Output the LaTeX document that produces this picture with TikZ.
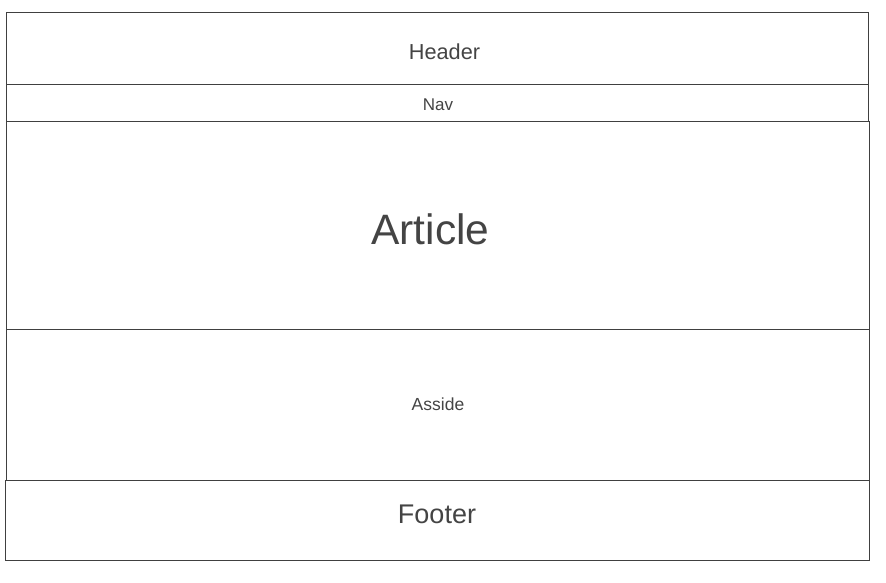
\documentclass[tikz,border=0pt]{standalone}
\usepackage{fontspec}
\setmainfont{Liberation Sans}
\definecolor{linec}{HTML}{404040}
\definecolor{textc}{HTML}{444444}
\begin{document}
\begin{tikzpicture}[x=1pt,y=-1pt,
  box/.style={draw=linec, line width=1pt, rectangle, inner sep=0pt, outer sep=0pt, anchor=north west},
  lbl/.style={text=textc, inner sep=0pt, anchor=base}]
\useasboundingbox (0,0) rectangle (886,582);
\node[box, minimum width=862pt, minimum height=72pt] (header) at (6.5,12.5) {};
\node[box, minimum width=862pt, minimum height=37pt] (nav) at (6.5,84.5) {};
\node[box, minimum width=863pt, minimum height=208pt] (article) at (6.5,121.5) {};
\node[box, minimum width=863pt, minimum height=151pt] (aside) at (6.5,329.5) {};
\node[box, minimum width=864pt, minimum height=80pt] (footer) at (5.5,480.5) {};
\node[lbl, font=\fontsize{21.7}{25}\selectfont] (headertext) at (444.5,59) {Header};
\node[lbl, font=\fontsize{17}{20}\selectfont] (navtext) at (438,110.7) {Nav};
\node[lbl, font=\fontsize{42.5}{50}\selectfont] (articletext) at (430.5,244) {Article};
\node[lbl, font=\fontsize{17.5}{21}\selectfont] (asidetext) at (438,410.3) {Asside};
\node[lbl, font=\fontsize{27}{32}\selectfont] (footertext) at (437,523) {Footer};
\end{tikzpicture}
\end{document}
